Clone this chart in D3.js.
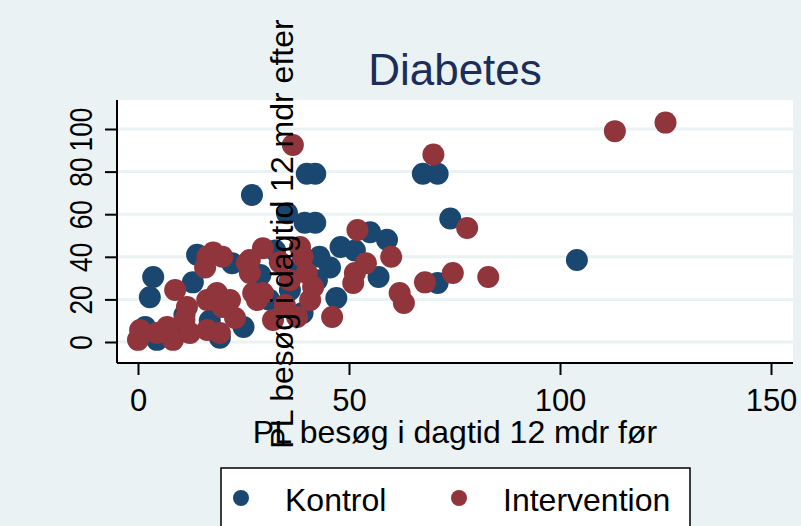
<!DOCTYPE html>
<html>
<head>
<meta charset="utf-8">
<script src="https://cdn.jsdelivr.net/npm/d3@7"></script>
<style>
body { margin: 0; background: #eaf2f3; }
text { font-family: "Liberation Sans", Arial, sans-serif; }
</style>
</head>
<body>
<script>
var width = 801
var height = 526
var radius = 11
var bg = "#eaf2f3"
var colors = ["#1a476f", "#90353b"]
var groups = ["Kontrol", "Intervention"]

var x_ticks = [0, 50, 100, 150]
var y_ticks = [0, 20, 40, 60, 80, 100]

// Kontrol
var kontrol_x = [104, 74, 67.5, 71, 40, 42, 27, 35.3, 39.5, 42, 71, 57, 59, 55, 48, 43, 45.5, 42.4, 47, 39,
    14, 22.3, 3.6, 2.8, 13, 25, 1.7, 4.5, 19.4, 32.5, 36, 29, 17, 11, 7.6, 31, 38.4, 51.4]
var kontrol_y = [38.5, 58, 79, 79, 79, 79, 69, 60.5, 56, 56, 27.7, 30.5, 48, 51.5, 44.6, 40, 35, 29, 20.7, 13.6,
    41, 37, 30.5, 21, 28, 7, 7, 1, 2, 43, 24.4, 31.5, 10, 12.7, 5.6, 20, 34, 43]

// Intervention
var intervention_x = [113, 125, 36.7, 70, 78, 52, 60, 54, 51.4, 51, 62, 63, 68, 74.6, 83, 46, 38.4, 39, 40, 41.5,
    40.8, 37.7, 16.4, 17.8, 15.9, 26.5, 29.6, 26.5, 8.8, 11.6, 16.4, 18.7, 20, 21.8, 28.2, 29.6, 32, 34.8,
    0.5, 0, 4.5, 6.9, 8.3, 12.3, 16.4, 19.4, 20, 25.8, 27.3, 11, 23, 33.6, 36]
var intervention_y = [99, 103, 92.5, 88, 53.5, 52.6, 40, 37, 32.4, 27.7, 23, 18.3, 28, 32.4, 30.5, 11.7, 44.6, 40, 32.4, 25.8,
    19.7, 11.7, 40, 42, 35, 38.5, 44, 32.4, 24.4, 16.4, 19.7, 23, 16.4, 19.7, 19.7, 23, 10.3, 17.4,
    5.6, 1, 4.2, 7, 1, 4.2, 5.6, 4.2, 40, 37, 23, 10.3, 11.3, 37.5, 29]

var plot_left = 117
var plot_right = 793
var plot_top = 100
var plot_bottom = 363

var x = d3.scaleLinear()
.domain([0, 150])
.range([138, 771])

var y = d3.scaleLinear()
.domain([0, 100])
.range([342, 129])

var svg = d3.select("body").append("svg")
.attr("width", width)
.attr("height", height)

svg.append("rect")
.attr("width", width)
.attr("height", height)
.attr("fill", bg)

// plot region
svg.append("rect")
.attr("x", plot_left)
.attr("y", plot_top)
.attr("width", plot_right - plot_left)
.attr("height", plot_bottom - plot_top)
.attr("fill", "white")

svg.append("g")
.selectAll("line")
.data(y_ticks)
.enter().append("line")
.attr("x1", plot_left)
.attr("x2", plot_right)
.attr("y1", function(d) { return y(d) })
.attr("y2", function(d) { return y(d) })
.attr("stroke", bg)
.attr("stroke-width", 3)

// title
svg.append("text")
.attr("x", (plot_left + plot_right) / 2)
.attr("y", 85)
.style("text-anchor", "middle")
.style("font-size", "44px")
.attr("fill", "#1c2d5a")
.text("Diabetes")

// markers
var series = [
    { name: groups[0], xs: kontrol_x, ys: kontrol_y, color: colors[0] },
    { name: groups[1], xs: intervention_x, ys: intervention_y, color: colors[1] }
]

series.forEach(function(s) {
    svg.append("g")
    .selectAll("circle")
    .data(s.xs.map(function(v, i) { return [v, s.ys[i]] }))
    .enter().append("circle")
    .attr("cx", function(d) { return x(d[0]) })
    .attr("cy", function(d) { return y(d[1]) })
    .attr("r", radius)
    .attr("fill", s.color)
})

// axes
var x_axis = svg.append("g")
.attr("transform", "translate(0," + plot_bottom + ")")
.call(d3.axisBottom(x).tickValues(x_ticks).tickSize(12).tickPadding(14))

var y_axis = svg.append("g")
.attr("transform", "translate(" + plot_left + ",0)")
.call(d3.axisLeft(y).tickValues(y_ticks).tickSize(12))

x_axis.select(".domain").remove()
y_axis.select(".domain").remove()

x_axis.selectAll("line").attr("stroke", "black").attr("stroke-width", 2)
y_axis.selectAll("line").attr("stroke", "black").attr("stroke-width", 2)

x_axis.selectAll("text")
.style("font-size", "31px")
.style("font-family", "Liberation Sans, Arial, sans-serif")
.attr("fill", "black")
.attr("dy", "0.71em")

// y labels are set upright and a bit narrow, as in the original
y_axis.selectAll("text")
.attr("transform", "rotate(-90) scale(0.85,1)")
.attr("x", 0)
.attr("y", -25)
.attr("dy", 0)
.style("text-anchor", "middle")
.style("font-size", "31px")
.style("font-family", "Liberation Sans, Arial, sans-serif")
.attr("fill", "black")

svg.append("line")
.attr("x1", plot_left)
.attr("x2", plot_right)
.attr("y1", plot_bottom)
.attr("y2", plot_bottom)
.attr("stroke", "black")
.attr("stroke-width", 2)

svg.append("line")
.attr("x1", plot_left)
.attr("x2", plot_left)
.attr("y1", plot_top)
.attr("y2", plot_bottom)
.attr("stroke", "black")
.attr("stroke-width", 2)

// axis titles
svg.append("text")
.attr("x", 455)
.attr("y", 443)
.style("text-anchor", "middle")
.style("font-size", "32px")
.text("PL besøg i dagtid 12 mdr før")

svg.append("text")
.attr("transform", "translate(293,234) rotate(-90)")
.style("text-anchor", "middle")
.style("font-size", "32px")
.text("PL besøg i dagtid 12 mdr efter")

// legend
var legend = svg.append("g")

legend.append("rect")
.attr("x", 221)
.attr("y", 468)
.attr("width", 469)
.attr("height", 80)
.attr("fill", "white")
.attr("stroke", "black")
.attr("stroke-width", 1.5)

var legend_x = [241, 459]
series.forEach(function(s, i) {
    legend.append("circle")
    .attr("cx", legend_x[i])
    .attr("cy", 498)
    .attr("r", 8)
    .attr("fill", s.color)

    legend.append("text")
    .attr("x", legend_x[i] + 44)
    .attr("y", 511)
    .style("font-size", "32px")
    .text(s.name)
})
</script>
</body>
</html>
